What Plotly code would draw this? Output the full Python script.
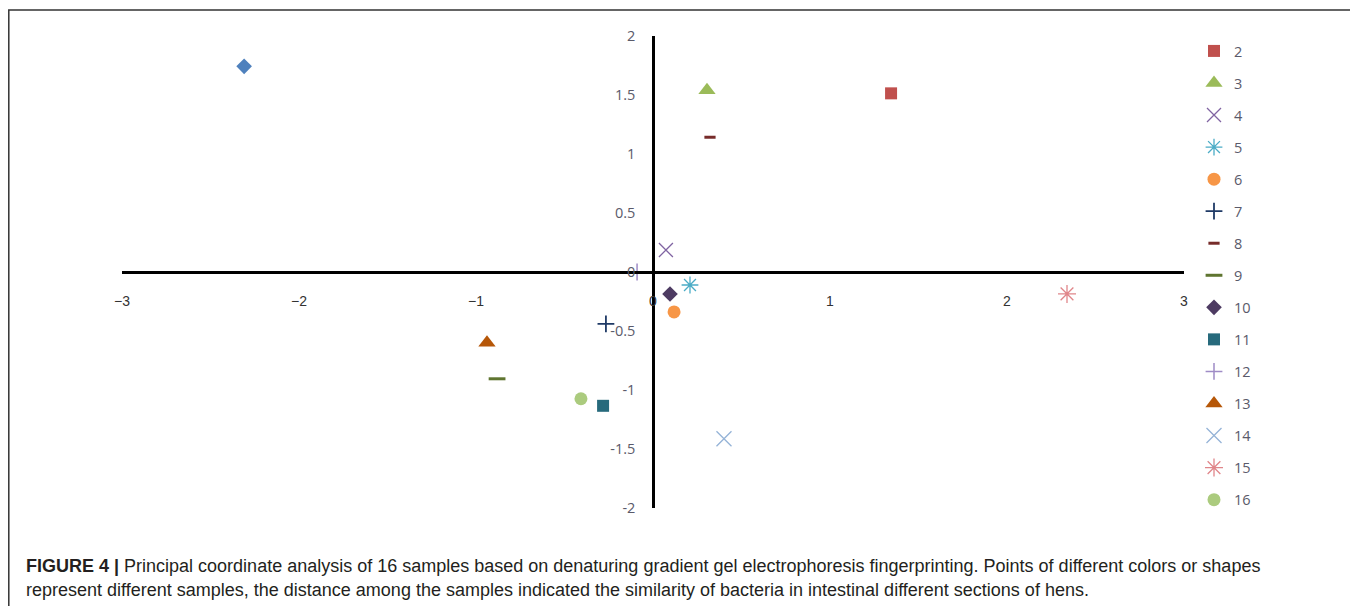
import plotly.graph_objects as go

# ---- data ----
samples = ["1", "2", "3", "4", "5", "6", "7", "8", "9", "10", "11", "12", "13", "14", "15", "16"]
pc1 = [-2.31, 1.345, 0.305, 0.073, 0.209, 0.119, -0.266, 0.322, -0.881, 0.096, -0.282, -0.09, -0.938, 0.401, 2.339, -0.407]
pc2 = [1.743, 1.514, 1.54, 0.186, -0.11, -0.338, -0.44, 1.142, -0.905, -0.186, -1.134, 0.0, -0.6, -1.413, -0.186, -1.074]
x_ticks = [-3, -2, -1, 0, 1, 2, 3]
y_ticks = [-2, -1.5, -1, -0.5, 0, 0.5, 1, 1.5, 2]

# ---- styles ----
colors = ["#4F81BD", "#C0504D", "#9BBB59", "#8064A2", "#4BACC6", "#F79646", "#1F3A66", "#772C2A",
          "#5F7530", "#4D3B62", "#276A7C", "#9F8CC6", "#B65708", "#95B3D7", "#E0868A", "#ABCB7E"]
symbols = ["diamond", "square", "triangle-up", "x-thin-open", "asterisk-open", "circle", "cross-thin-open",
           "line-ew-open", "line-ew-open", "diamond", "square", "cross-thin-open", "triangle-up",
           "x-thin-open", "asterisk-open", "circle"]
sizes = [12, 12, 15, 14, 14, 13, 12, 8, 12, 12, 12, 12, 15, 15, 15, 13]
line_w = [0, 0, 0, 1.3, 1.3, 0, 1.8, 3, 3, 0, 0, 1.5, 0, 1.3, 1.3, 0]

fig = go.Figure()
for i, name in enumerate(samples):
    open_sym = symbols[i].endswith("open")
    fig.add_trace(go.Scatter(
        x=[pc1[i]], y=[pc2[i]], mode="markers", name=name,
        legendgroup=name, showlegend=(i > 0),
        marker=dict(symbol=symbols[i], size=sizes[i], color=colors[i],
                    line=dict(width=line_w[i] if open_sym else 0, color=colors[i])),
        hoverinfo="x+y+name",
    ))

# page offset (body margin) compensated: figure is drawn 8px in from the page edge
OFF = 8
W, H = 1358 - OFF, 606 - OFF
L = 122 - OFF
T = 36 - OFF
R = 1358 - 1184
B = 606 - 508
pw, ph = W - L - R, H - T - B


def px_x(p):
    return (p - OFF - L) / pw


def px_y(p):
    return (H - B - (p - OFF)) / ph


fig.update_layout(
    width=W, height=H,
    margin=dict(l=L, r=R, t=T, b=B),
    paper_bgcolor="white", plot_bgcolor="white",
    font=dict(family="Liberation Sans, Arial, sans-serif", size=14, color="#333333"),
    xaxis=dict(range=[-3, 3], tickvals=x_ticks, ticktext=[str(v).replace("-", "−") for v in x_ticks],
               showgrid=False, zeroline=False, showline=True, linecolor="black", linewidth=2.5,
               anchor="free", position=0.5, ticks="", ticklabelstandoff=15,
               tickfont=dict(size=14, color="#333333")),
    yaxis=dict(range=[-2, 2], tickvals=y_ticks, ticktext=[str(v) for v in y_ticks],
               showgrid=False, zeroline=False, showline=True, linecolor="black", linewidth=2.5,
               anchor="free", position=0.5, ticks="", ticklabelstandoff=14,
               tickfont=dict(family="Open Sans, Liberation Sans, sans-serif", size=14.5, color="#5a5a6a")),
    legend=dict(x=px_x(1194), xanchor="left", y=px_y(35), yanchor="top",
                traceorder="grouped", tracegroupgap=10.2, maxheight=560,
                font=dict(family="Open Sans, Liberation Sans, sans-serif", size=14.5, color="#5a5a6a"),
                bgcolor="rgba(0,0,0,0)", itemwidth=30),
    showlegend=True,
)

# figure frame
fig.add_shape(type="rect", xref="paper", yref="paper",
              x0=px_x(8.8), x1=px_x(1355), y0=px_y(660), y1=px_y(10),
              line=dict(color="#333333", width=1.5), fillcolor="rgba(0,0,0,0)", layer="below")

cap_font = dict(family="Liberation Sans, Arial, sans-serif", size=18, color="#231F20")
fig.add_annotation(xref="paper", yref="paper", x=px_x(24), y=px_y(566), xanchor="left", yanchor="middle",
                   showarrow=False, font=cap_font,
                   text="<b>FIGURE 4 |</b> Principal coordinate analysis of 16 samples based on denaturing gradient gel electrophoresis fingerprinting. Points of different colors or shapes")
fig.add_annotation(xref="paper", yref="paper", x=px_x(24), y=px_y(590), xanchor="left", yanchor="middle",
                   showarrow=False, font=cap_font,
                   text="represent different samples, the distance among the samples indicated the similarity of bacteria in intestinal different sections of hens.")

fig.write_html("out.html")
